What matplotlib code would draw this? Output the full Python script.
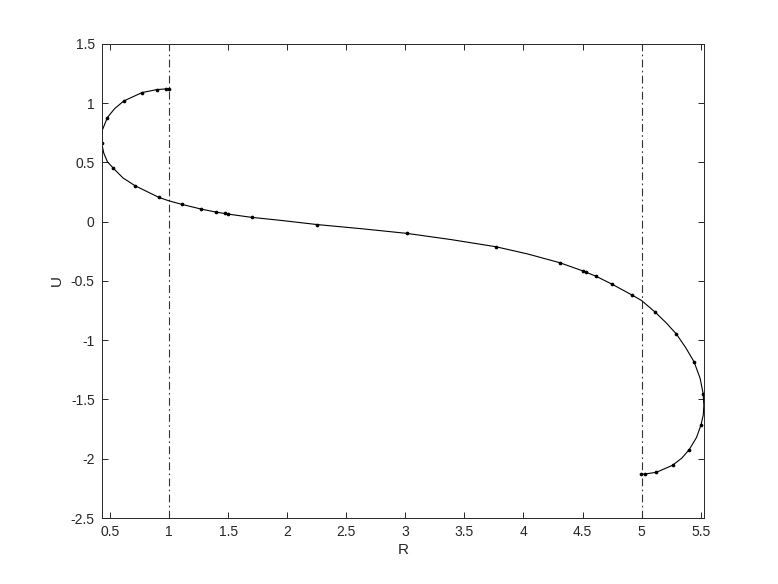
import matplotlib
matplotlib.use("Agg")
import matplotlib.pyplot as plt

# markers
r_pts = [0.999, 0.977, 0.896, 0.772, 0.617, 0.478, 0.430, 0.529, 0.712, 0.913,
         1.107, 1.271, 1.395, 1.471, 1.496, 1.699, 2.255, 3.011, 3.767, 4.308,
         4.500, 4.528, 4.612, 4.748, 4.920, 5.115, 5.295, 5.444, 5.521, 5.504,
         5.403, 5.262, 5.126, 5.033, 4.999]
u_pts = [1.121, 1.121, 1.115, 1.090, 1.019, 0.879, 0.662, 0.451, 0.304, 0.206,
         0.147, 0.107, 0.082, 0.071, 0.065, 0.037, -0.024, -0.098, -0.211, -0.346,
         -0.414, -0.424, -0.459, -0.526, -0.619, -0.763, -0.948, -1.182, -1.450, -1.711,
         -1.923, -2.055, -2.114, -2.128, -2.128]

# the curve itself, with a few extra points read at the bends
r_line = [1.000, 0.999, 0.977, 0.896, 0.772, 0.617, 0.540, 0.478, 0.436, 0.430,
          0.448, 0.478, 0.529, 0.610, 0.712, 0.913, 1.000, 1.107, 1.271, 1.395,
          1.496, 1.699, 1.95, 2.255, 2.63, 3.011, 3.39, 3.767, 4.04, 4.308,
          4.500, 4.612, 4.748, 4.920, 5.000, 5.115, 5.205, 5.295, 5.375, 5.444,
          5.495, 5.521, 5.527, 5.522, 5.504, 5.465, 5.403, 5.340, 5.262, 5.126,
          5.033, 5.000]
u_line = [1.121, 1.121, 1.121, 1.115, 1.090, 1.019, 0.955, 0.879, 0.774, 0.662,
          0.578, 0.507, 0.451, 0.370, 0.304, 0.206, 0.176, 0.147, 0.107, 0.082,
          0.065, 0.037, 0.011, -0.024, -0.059, -0.098, -0.151, -0.211, -0.273, -0.346,
          -0.414, -0.459, -0.526, -0.619, -0.665, -0.763, -0.850, -0.948, -1.065, -1.182,
          -1.320, -1.450, -1.550, -1.630, -1.711, -1.820, -1.923, -1.995, -2.055, -2.114,
          -2.128, -2.130]

walls = [1, 5]
x_ticks = [0.5, 1, 1.5, 2, 2.5, 3, 3.5, 4, 4.5, 5, 5.5]
y_ticks = [-2.5, -2, -1.5, -1, -0.5, 0, 0.5, 1, 1.5]

plt.rcParams['font.family'] = ['Liberation Sans', 'DejaVu Sans']
axis_col = '#262626'

fig = plt.figure(figsize=(7.78, 5.84), dpi=100)
ax = fig.add_axes([0.1307, 0.113, 0.774, 0.8117])

for w in walls:
    ax.axvline(w, color='#333333', lw=0.8, linestyle=(0, (7, 3, 1.5, 3)))

ax.plot(r_line, u_line, color='black', lw=0.8)
ax.plot(r_pts, u_pts, linestyle='none', marker='.', color='black', markersize=3.3)

ax.set_xlim(0.43, 5.527)
ax.set_ylim(-2.5, 1.5)
ax.set_xticks(x_ticks)
ax.set_yticks(y_ticks)
ax.set_xticklabels([f'{v:g}' for v in x_ticks])
ax.set_yticklabels([f'{v:g}' for v in y_ticks])

ax.tick_params(direction='in', top=True, right=True, length=4.5, width=0.7,
               colors=axis_col, labelsize=10, labelcolor=axis_col, pad=5)
for s in ax.spines.values():
    s.set_color(axis_col)
    s.set_linewidth(0.7)

ax.set_xlabel('R', fontsize=11, color=axis_col, labelpad=3)
ax.set_ylabel('U', fontsize=11, color=axis_col, labelpad=5)

fig.savefig('out.png', dpi=100, facecolor='white')
